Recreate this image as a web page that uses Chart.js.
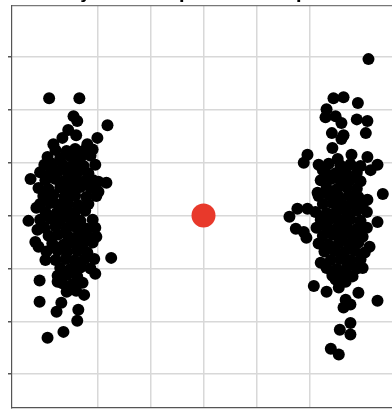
<!DOCTYPE html>
<html>
<head>
<meta charset="utf-8">
<script src="https://cdn.jsdelivr.net/npm/chart.js@4"></script>
<style>
  html, body { margin: 0; padding: 0; background: #fff; overflow: hidden; width: 392px; height: 410px; }
  #clip { position: relative; width: 392px; height: 410px; overflow: hidden; }
  #wrap { position: absolute; left: 0; top: -15px; width: 400px; height: 425px; }
</style>
</head>
<body>
<div id="clip"><div id="wrap"><canvas id="chart"></canvas></div></div>
<script>
const chartTitle = 'Toy data sample with one point';

// left group, [x, y]
const leftGroup = [
  [-2.91, 2.22], [-2.34, 2.22], [-2.45, 1.88], [-2.38, 1.79], [-1.81, 1.71], [-2.55, 1.62],
  [-2.00, 1.47], [-2.83, 1.35], [-2.19, 1.35], [-3.26, 0.69], [-1.83, 0.62], [-1.98, 0.64],
  [-1.98, 0.45], [-3.15, 0.15], [-3.30, -0.10], [-3.13, -0.27], [-3.11, -0.59], [-1.74, -0.80],
  [-2.04, -1.10], [-3.09, -1.23], [-3.09, -1.63], [-2.68, -1.65], [-2.77, -1.82], [-2.36, -1.78],
  [-2.38, -1.99], [-2.64, -2.20], [-2.94, -2.31], [-2.25, -1.50], [-2.02, -0.40], [-2.04, -0.23],
  [-2.06, -0.82], [-2.51, -1.40], [-2.75, -1.25], [-2.98, -0.84], [-3.17, -0.50], [-2.66, 1.47],
  [-2.40, 1.52],
  [-2.79, 1.24], [-2.58, 1.22], [-2.42, 1.26], [-2.25, 1.23], [-2.09, 1.25],
  [-2.94, 1.11], [-2.70, 1.09], [-2.51, 1.12], [-2.32, 1.10], [-2.13, 1.13],
  [-3.00, 0.96], [-2.85, 0.98], [-2.64, 0.95], [-2.45, 0.97], [-2.26, 0.94], [-2.04, 0.96],
  [-3.08, 0.82], [-2.89, 0.80], [-2.74, 0.84], [-2.55, 0.81], [-2.36, 0.83], [-2.17, 0.80],
  [-2.98, 0.67], [-2.79, 0.69], [-2.62, 0.66], [-2.43, 0.68], [-2.25, 0.65], [-2.08, 0.67],
  [-3.11, 0.52], [-2.92, 0.50], [-2.70, 0.53], [-2.51, 0.51], [-2.32, 0.54], [-2.13, 0.52],
  [-3.02, 0.37], [-2.83, 0.39], [-2.62, 0.36], [-2.42, 0.38], [-2.21, 0.35], [-2.02, 0.37],
  [-3.08, 0.22], [-2.89, 0.24], [-2.74, 0.21], [-2.55, 0.23], [-2.36, 0.20], [-2.17, 0.22],
  [-2.98, 0.07], [-2.77, 0.05], [-2.60, 0.08], [-2.43, 0.06], [-2.23, 0.09],
  [-3.08, -0.08], [-2.89, -0.06], [-2.70, -0.09], [-2.51, -0.07], [-2.32, -0.10], [-2.09, -0.08],
  [-3.00, -0.23], [-2.79, -0.21], [-2.58, -0.24], [-2.40, -0.22], [-2.21, -0.25],
  [-2.92, -0.38], [-2.74, -0.36], [-2.55, -0.39], [-2.36, -0.37], [-2.17, -0.40],
  [-2.85, -0.53], [-2.64, -0.55], [-2.47, -0.52], [-2.28, -0.54], [-2.09, -0.51],
  [-2.96, -0.68], [-2.75, -0.66], [-2.57, -0.69], [-2.38, -0.67], [-2.19, -0.70],
  [-2.79, -0.84], [-2.60, -0.82], [-2.43, -0.85], [-2.25, -0.83],
  [-2.70, -0.99], [-2.51, -1.01], [-2.32, -0.98], [-2.13, -1.00],
  [-2.75, -1.14], [-2.57, -1.12], [-2.38, -1.15],
  [-2.66, -1.28], [-2.47, -1.30], [-2.28, -1.27],
  [-2.58, -1.44], [-2.40, -1.42]
];

// right group, [x, y]
const rightGroup = [
  [3.11, 2.96], [2.45, 2.22], [2.64, 2.24], [2.91, 2.13], [2.32, 2.01], [2.30, 1.86],
  [2.49, 1.88], [2.60, 1.75], [2.89, 1.82], [3.09, 1.79], [3.06, 1.56], [2.42, 1.56],
  [2.64, 1.52], [2.60, 1.45], [2.43, 1.28], [1.96, 1.15], [1.89, 1.00], [2.79, 1.15],
  [3.09, 1.11], [2.53, 1.07], [2.25, 0.86], [3.28, 0.96], [3.15, 0.86], [2.15, 0.43],
  [3.38, 0.41], [3.09, 0.30], [1.77, 0.13], [1.62, -0.02], [1.96, 0.13], [1.74, -0.25],
  [1.89, -0.31], [1.94, -0.42], [3.28, -0.12], [3.13, -0.59], [3.00, -0.99], [2.21, -0.89],
  [2.08, -1.33], [2.32, -1.44], [2.55, -1.36], [2.92, -1.46], [3.28, -1.61], [2.68, -1.59],
  [2.64, -1.74], [2.77, -1.68], [2.77, -2.03], [2.57, -2.16], [2.77, -2.25], [2.40, -2.52],
  [2.55, -2.63], [2.43, -1.08], [2.49, -1.21], [2.68, -1.25],
  [2.17, 0.96], [2.36, 0.98], [2.58, 0.95], [2.77, 0.97], [2.96, 0.94],
  [2.30, 0.82], [2.49, 0.80], [2.68, 0.83], [2.89, 0.81],
  [2.21, 0.67], [2.40, 0.69], [2.58, 0.66], [2.77, 0.68], [2.96, 0.65],
  [2.32, 0.52], [2.51, 0.50], [2.70, 0.53], [2.89, 0.51],
  [2.17, 0.37], [2.36, 0.39], [2.55, 0.36], [2.74, 0.38], [2.92, 0.35],
  [2.25, 0.22], [2.43, 0.24], [2.62, 0.21], [2.81, 0.23], [3.00, 0.20],
  [2.11, 0.07], [2.32, 0.05], [2.51, 0.08], [2.70, 0.06], [2.89, 0.09], [3.08, 0.07],
  [2.21, -0.08], [2.40, -0.06], [2.58, -0.09], [2.77, -0.07], [2.96, -0.10],
  [2.13, -0.23], [2.32, -0.21], [2.51, -0.24], [2.70, -0.22], [2.89, -0.25], [3.08, -0.23],
  [2.25, -0.38], [2.43, -0.36], [2.62, -0.39], [2.81, -0.37], [3.00, -0.40],
  [2.17, -0.53], [2.36, -0.55], [2.55, -0.52], [2.74, -0.54], [2.92, -0.51],
  [2.28, -0.68], [2.47, -0.66], [2.66, -0.69], [2.85, -0.67], [3.04, -0.70],
  [2.40, -0.84], [2.58, -0.82], [2.77, -0.85], [2.96, -0.83],
  [2.32, -0.99], [2.51, -1.01], [2.70, -0.98], [2.89, -1.00],
  [2.43, -1.14], [2.62, -1.12], [2.81, -1.15]
];

const outlier = [[0, 0]];

const xRange = [-3.61, 3.61];
const yRange = [-3.64, 3.98];

const toPoints = arr => arr.map(p => ({ x: p[0], y: p[1] }));
const keepInts = scale => { scale.ticks = scale.ticks.filter(t => Number.isInteger(t.value)); };

const gridStyle = { color: '#d8d8d8', lineWidth: 1.5 };

new Chart(document.getElementById('chart'), {
  type: 'scatter',
  data: {
    datasets: [
      { data: toPoints(leftGroup), backgroundColor: '#000', borderWidth: 0, pointRadius: 6 },
      { data: toPoints(rightGroup), backgroundColor: '#000', borderWidth: 0, pointRadius: 6 },
      { data: toPoints(outlier), backgroundColor: '#e8392b', borderWidth: 0, pointRadius: 12 }
    ]
  },
  options: {
    responsive: true,
    maintainAspectRatio: false,
    animation: false,
    layout: { autoPadding: false, padding: { left: 8, right: 5, top: 0, bottom: 2 } },
    plugins: {
      legend: { display: false },
      tooltip: { enabled: false },
      title: {
        display: true,
        text: chartTitle,
        color: '#000',
        font: { family: 'DejaVu Sans', size: 16, weight: 'bold' },
        padding: { top: 0, bottom: 1 }
      }
    },
    scales: {
      x: {
        type: 'linear', min: xRange[0], max: xRange[1],
        ticks: { display: false, stepSize: 1 },
        afterBuildTicks: keepInts,
        grid: { ...gridStyle, drawTicks: false },
        border: { color: '#555', width: 1.2 }
      },
      xTop: {
        type: 'linear', position: 'top', min: xRange[0], max: xRange[1],
        ticks: { display: false },
        grid: { display: false, drawTicks: false },
        border: { color: '#777', width: 1.2 }
      },
      y: {
        type: 'linear', min: yRange[0], max: yRange[1],
        ticks: { display: false, stepSize: 1 },
        afterBuildTicks: keepInts,
        grid: { ...gridStyle, tickLength: 4, tickColor: '#555' },
        border: { color: '#555', width: 1.2 }
      }
    }
  }
});
</script>
</body>
</html>
